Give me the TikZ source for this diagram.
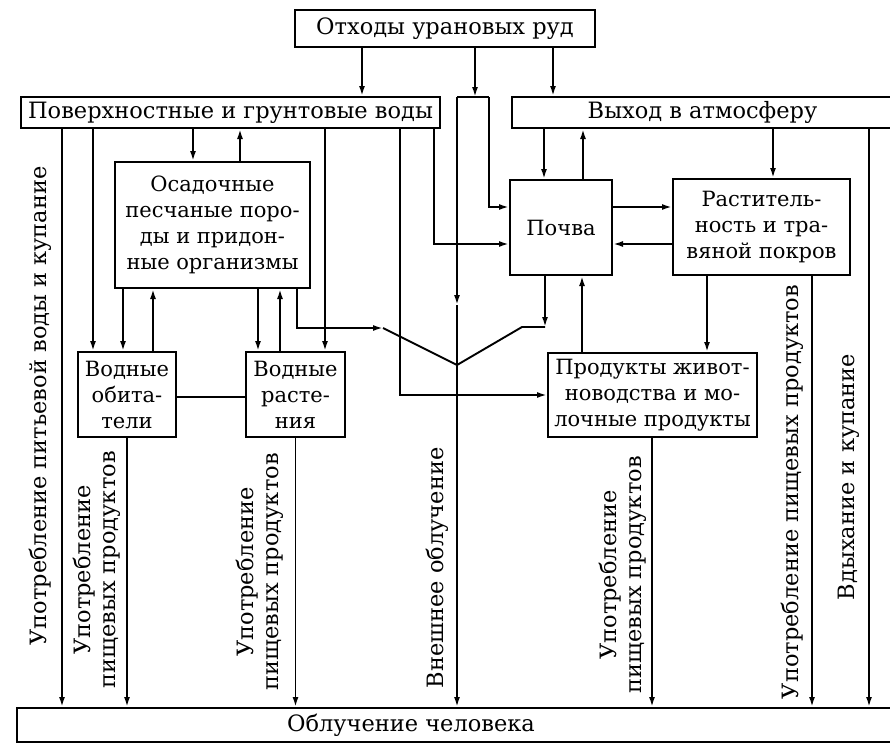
\documentclass[tikz,border=0pt]{standalone}
\usepackage{fontspec}
\setmainfont{DejaVu Serif}
\usetikzlibrary{arrows.meta,calc}
\begin{document}
\begin{tikzpicture}[x=1pt,y=-1pt,
  box/.style={draw, line width=2pt, inner sep=0pt, align=center, font=\fontsize{22.5}{26.5}\selectfont},
  sbox/.style={box, font=\fontsize{21}{26}\selectfont},
  arr/.style={line width=1.9pt, -{Latex[length=10pt,width=6pt]}},
  ln/.style={line width=1.9pt},
  txt/.style={inner sep=0pt, align=center, font=\fontsize{22.5}{26.5}\selectfont},
  lbl/.style={rotate=90, inner sep=0pt, align=center, font=\fontsize{22.5}{25}\selectfont}]
\useasboundingbox (0,0) rectangle (890,744);
% boxes
\node[box, minimum width=300pt, minimum height=37pt] (top) at (445,28.5) {Отходы урановых руд};
\node[box, minimum width=419pt, minimum height=31pt] (pov) at (230.5,112.5) {Поверхностные и грунтовые воды};
\node[box, minimum width=381pt, minimum height=31pt] (vyh) at (702.5,112.5) {Выход в атмосферу};
\node[sbox, minimum width=195pt, minimum height=126pt] (os) at (212.5,225) {Осадочные\\песчаные поро-\\ды и придон-\\ные организмы};
\node[sbox, minimum width=98pt, minimum height=85pt] (vob) at (127,394.5) {Водные\\обита-\\тели};
\node[sbox, minimum width=99pt, minimum height=85pt] (vr) at (295.5,394.5) {Водные\\расте-\\ния};
\node[sbox, minimum width=102pt, minimum height=95pt] (poch) at (561,227.5) {Почва};
\node[sbox, minimum width=177pt, minimum height=96pt] (rast) at (761.5,227) {Раститель-\\ность и тра-\\вяной покров};
\node[sbox, minimum width=209pt, minimum height=84pt] (prod) at (652.5,395) {Продукты живот-\\новодства и мо-\\лочные продукты};
\node[box, minimum width=878pt, minimum height=34pt] (obl) at (456,725) {};
\node[txt] (oblt) at (411,725) {Облучение человека};
% labels
\node[lbl] (l1) at (40,406) {Употребление питьевой воды и купание};
\node[lbl] (l2) at (97,570) {Употребление\\пищевых продуктов};
\node[lbl] (l3) at (260,572) {Употребление\\пищевых продуктов};
\node[lbl] (l4) at (437,568) {Внешнее облучение};
\node[lbl] (l5) at (623,575) {Употребление\\пищевых продуктов};
\node[lbl] (l6) at (792,492) {Употребление пищевых продуктов};
\node[lbl] (l7) at (849,477) {Вдыхание и купание};
% from top box
\draw[arr] (362,0 |- top.south) -- (362,0 |- pov.north);
\coordinate (jl) at (457,97);
\coordinate (jr) at (489,97);
\draw[arr] (475,0 |- top.south) -- (475,97);
\draw[ln] (jl) -- (jr);
\coordinate (mA) at (457,305);
\draw[arr] (jl) -- (mA);
\draw[arr] (mA) -- (457,0 |- obl.north);
\draw[arr] (jr) |- (poch.west |- 0,207);
\draw[arr] (553,0 |- top.south) -- (553,0 |- vyh.north);
% from pov
\draw[arr] (62,0 |- pov.south) -- (62,0 |- obl.north);
\draw[arr] (93,0 |- pov.south) -- (93,0 |- vob.north);
\draw[arr] (193,0 |- pov.south) -- (193,0 |- os.north);
\draw[arr] (240,0 |- os.north) -- (240,0 |- pov.south);
\draw[arr] (325,0 |- pov.south) -- (325,0 |- vr.north);
\draw[arr] (400,0 |- pov.south) |- (prod.west);
\draw[arr] (434,0 |- pov.south) |- (poch.west |- 0,244);
% from os
\draw[arr] (123,0 |- os.south) -- (123,0 |- vob.north);
\draw[arr] (153,0 |- vob.north) -- (153,0 |- os.south);
\draw[arr] (258,0 |- os.south) -- (258,0 |- vr.north);
\draw[arr] (280,0 |- vr.north) -- (280,0 |- os.south);
\coordinate (mg) at (457,365);
\coordinate (kl) at (383,328);
\draw[arr] (297,0 |- os.south) |- (kl);
\draw[ln] (kl) -- (mg);
\coordinate (kr) at (545,327);
\coordinate (kr2) at (522,327);
\draw[arr] (545,0 |- poch.south) -- (kr);
\draw[ln] (kr) -- (kr2) -- (mg);
% water boxes
\draw[ln] (vob.east |- 0,397) -- (vr.west |- 0,397);
\draw[arr] (vob.south) -- (vob.south |- obl.north);
\draw[arr] (vr.south) -- (vr.south |- obl.north);
% soil / atmosphere
\draw[arr] (544,0 |- vyh.south) -- (544,0 |- poch.north);
\draw[arr] (583,0 |- poch.north) -- (583,0 |- vyh.south);
\draw[arr] (poch.east |- 0,207) -- (rast.west |- 0,207);
\draw[arr] (rast.west |- 0,244) -- (poch.east |- 0,244);
\draw[arr] (773,0 |- vyh.south) -- (773,0 |- rast.north);
\draw[arr] (707,0 |- rast.south) -- (707,0 |- prod.north);
\draw[arr] (812,0 |- rast.south) -- (812,0 |- obl.north);
\draw[arr] (582,0 |- prod.north) -- (582,0 |- poch.south);
\draw[arr] (652,0 |- prod.south) -- (652,0 |- obl.north);
\draw[arr] (869,0 |- vyh.south) -- (869,0 |- obl.north);
\end{tikzpicture}
\end{document}
